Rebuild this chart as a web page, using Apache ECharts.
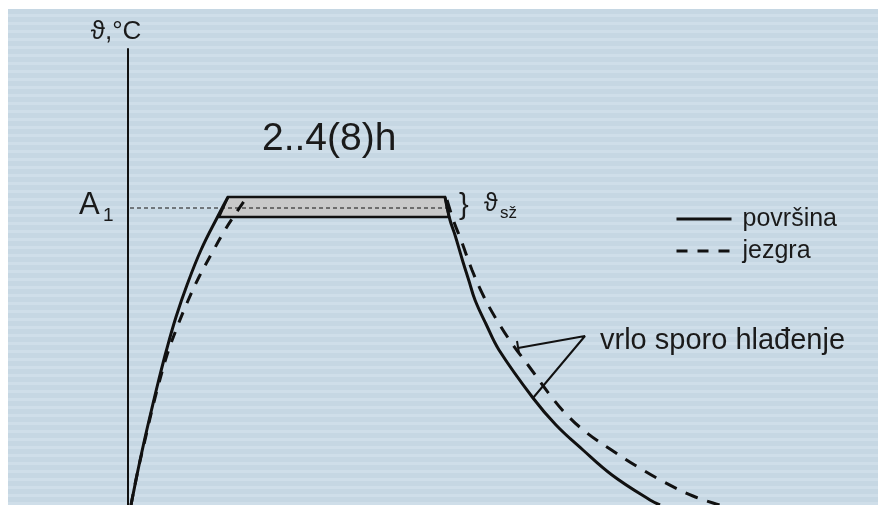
<!DOCTYPE html>
<html>
<head>
<meta charset="utf-8">
<script src="https://cdn.jsdelivr.net/npm/echarts@6/dist/echarts.min.js"></script>
<style>
  html, body { margin: 0; padding: 0; background: #ffffff; }
  #bg { position: absolute; left: 8px; top: 9px; width: 870px; height: 496px;
        background: repeating-linear-gradient(to bottom, #c6d7e3 0px, #c6d7e3 5px, #cfdee9 5px, #cfdee9 8px); }
  #chart { position: absolute; left: 0; top: 0; width: 878px; height: 505px; }
</style>
</head>
<body>
<div id="bg"></div>
<div id="chart"></div>
<script>
// time (arbitrary units) / temperature (arbitrary units)
const surfaceHeating = [[0.6,0],[2,8.75],[3.3,16.25],[4.7,23.75],[6,30.5],[7.7,38.75],[9.6,47],[11.8,55],[14.6,63.75],[18,72.25],[20,77]];
const surfaceCooling = [[63.4,77],[64.4,71.25],[65.4,67.5],[67,60.75],[68.2,56],[69.4,51.25],[71.6,45.25],[74.2,38.75],[81,26.75],[85.6,20],[91,13.75],[96.8,7.5],[104.4,1.25],[106.4,0]];
const coreHeating = [[0.6,0],[2,8.75],[3.4,16.25],[4.8,23.75],[6.2,30.5],[7.8,37.5],[9.6,43.75],[11.8,50.5],[14.2,57],[16.8,63],[19.4,68.75],[21.6,73],[23.8,77]];
const coreCooling = [[63.8,76.25],[65.2,70.75],[66.6,66.25],[68.8,58.75],[71.2,52],[74,45.75],[77,40],[80,35],[84.4,27.5],[87.8,22.5],[91.8,18],[96.4,14],[102,9.5],[107.2,5.75],[113,2.25],[117,0.5],[120.4,-0.75]];
const a1Level = 74.25;
const a1Line = [[0.4, a1Level],[64.2, a1Level]];
// soaking band: [xLeftTop, xRightTop, xRightBottom, xLeftBottom, yTop, yBottom]
const band = [[20, 63.4, 64.2, 18.2, 77, 72]];
const pointerLines = [[78,39.25],[91.4,42.25],[81,26.75]];
const pointerTick = [[77.8,41],[78.2,38]];
const legendNames = ['površina','jezgra'];

const FONT = '"Liberation Sans", Arial, sans-serif';
const chart = echarts.init(document.getElementById('chart'), null, {renderer: 'canvas'});
const black = '#111111';
const txt = '#1a1a1a';

chart.setOption({
  backgroundColor: 'transparent',
  animation: false,
  grid: { left: 128, right: 0, top: 49, bottom: 0, containLabel: false },
  xAxis: { type: 'value', min: 0, max: 150, show: false },
  yAxis: {
    type: 'value', min: 0, max: 114,
    name: 'ϑ,°C', nameLocation: 'end', nameGap: 4,
    nameTextStyle: { fontSize: 26, color: txt, fontFamily: FONT, padding: [0, 24, 0, 0] },
    axisLine: { show: true, lineStyle: { color: black, width: 2 } },
    axisTick: { show: false }, axisLabel: { show: false }, splitLine: { show: false }
  },
  legend: {
    data: legendNames, orient: 'vertical', left: 675, top: 206, padding: 0,
    itemWidth: 55, itemHeight: 14, itemGap: 6,
    itemStyle: { color: 'transparent', borderWidth: 0 },
    lineStyle: { width: 3 },
    textStyle: { fontSize: 25, lineHeight: 26, color: txt, fontFamily: FONT, padding: [0,0,0,6] }
  },
  series: [
    {
      type: 'custom', silent: true, data: band, z: 1,
      renderItem: function (params, api) {
        const p1 = api.coord([api.value(0), api.value(4)]);
        const p2 = api.coord([api.value(1), api.value(4)]);
        const p3 = api.coord([api.value(2), api.value(5)]);
        const p4 = api.coord([api.value(3), api.value(5)]);
        return { type: 'polygon', shape: { points: [p1,p2,p3,p4] },
                 style: { fill: '#c9c9c9', stroke: black, lineWidth: 2.5 } };
      }
    },
    { name: 'a1', type: 'line', data: a1Line, symbol: 'none', silent: true, z: 3,
      lineStyle: { color: black, width: 1, type: [4,3] } },
    { name: 'površina', type: 'line', data: surfaceHeating, symbol: 'none', smooth: 0.4, z: 4,
      lineStyle: { color: black, width: 3 }, itemStyle: { color: black } },
    { name: 'površina', type: 'line', data: surfaceCooling, symbol: 'none', smooth: 0.4, z: 4,
      lineStyle: { color: black, width: 3 }, itemStyle: { color: black } },
    { name: 'jezgra', type: 'line', data: coreHeating, symbol: 'none', smooth: 0.4, z: 4,
      lineStyle: { color: black, width: 3, type: [11,10] }, itemStyle: { color: black } },
    { name: 'jezgra', type: 'line', data: coreCooling, symbol: 'none', smooth: 0.4, z: 4,
      lineStyle: { color: black, width: 3, type: [13,10] }, itemStyle: { color: black } },
    { name: 'ptr', type: 'line', data: pointerLines, symbol: 'none', silent: true, z: 4,
      lineStyle: { color: black, width: 2 } },
    { name: 'tick', type: 'line', data: pointerTick, symbol: 'none', silent: true, z: 4,
      lineStyle: { color: black, width: 2 } }
  ],
  graphic: [
    { type: 'text', left: 262, top: 120, style: { text: '2..4(8)h', font: '39px ' + FONT, fill: txt } },
    { type: 'text', left: 79, top: 190, style: { text: 'A', font: '31px ' + FONT, fill: txt } },
    { type: 'text', left: 103, top: 206, style: { text: '1', font: '19px ' + FONT, fill: txt } },
    { type: 'text', left: 459, top: 191, style: { text: '}', font: '29px ' + FONT, fill: txt } },
    { type: 'text', left: 484, top: 192, style: { text: 'ϑ', font: '25px ' + FONT, fill: txt } },
    { type: 'text', left: 500, top: 205, style: { text: 'sž', font: '17px ' + FONT, fill: txt } },
    { type: 'text', left: 600, top: 326, style: { text: 'vrlo sporo hlađenje', font: '29px ' + FONT, fill: txt } }
  ]
});
</script>
</body>
</html>
